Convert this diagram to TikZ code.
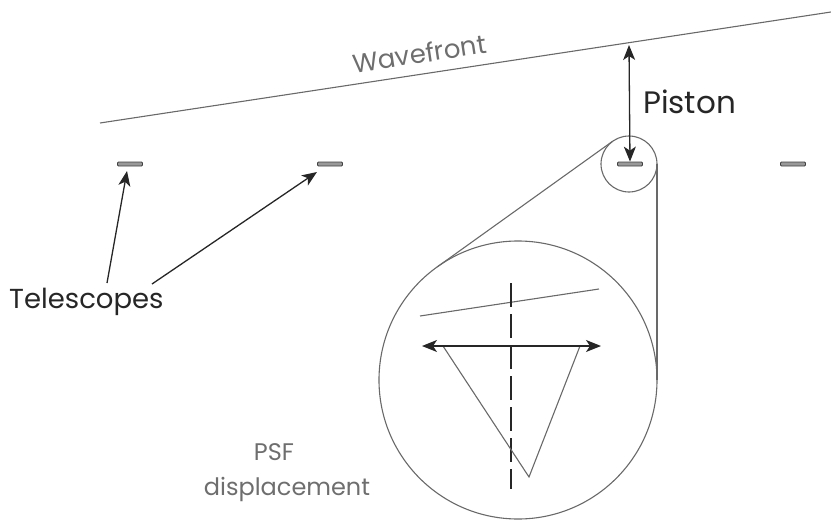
\documentclass[tikz,border=0pt]{standalone}
\usepackage{fontspec}
\setmainfont{Poppins}
\usetikzlibrary{arrows.meta}
\definecolor{lgray}{RGB}{105,105,105}
\definecolor{tgray}{RGB}{110,110,110}
\tikzset{
  tip/.tip={Stealth[length=15pt,width=12pt,inset=4pt]},
  thinline/.style={draw=lgray, line width=1.1pt},
  blackarrow/.style={draw=black!85, line width=1.3pt, -tip},
  dblarrow/.style={draw=black!85, line width=1.3pt, tip-tip},
  tele/.style={draw=black!75, fill=black!40, line width=0.8pt, rounded corners=1pt, minimum width=25pt, minimum height=4pt, inner sep=0pt},
  lbl/.style={inner sep=0pt, font=\fontsize{24}{28}\selectfont},
}
\begin{document}
\begin{tikzpicture}[x=1pt,y=-1pt]
\useasboundingbox (0,0) rectangle (831,522);
% wavefront
\coordinate (wa) at (100,123);
\coordinate (wb) at (831,12);
\draw[thinline] (wa) -- (wb);
\node[lbl, text=tgray, anchor=base, rotate=8.6, font=\fontsize{26}{30}\selectfont] (wft) at (421,63) {Wavefront};
% telescopes
\node[tele] (t1) at (130,164) {};
\node[tele] (t2) at (330,164) {};
\node[tele] (t3) at (630,164) {};
\node[tele] (t4) at (793,164) {};
% circles
\node[draw=lgray, line width=1.1pt, circle, minimum size=56pt, inner sep=0pt] (sc) at (629,164) {};
\node[draw=lgray, line width=1.1pt, circle, minimum size=278pt, inner sep=0pt] (bc) at (518,380) {};
% tangent lines
\coordinate (ta) at (612.7,141.2);
\coordinate (tb) at (437.1,267.0);
\coordinate (tc) at (657,164);
\coordinate (td) at (657,380);
\draw[thinline] (ta) -- (tb);
\draw[thinline] (tc) -- (td);
% piston arrow
\coordinate (wp) at (629,45);
\draw[dblarrow] (wp) -- (t3.north);
\node[lbl, anchor=base west, text=black!85, font=\fontsize{31}{36}\selectfont] (pist) at (643,113) {Piston};
% telescopes label
\node[lbl, anchor=base west, text=black!85, font=\fontsize{27.5}{32}\selectfont] (tel) at (9,308) {Telescopes};
\coordinate (a1) at (107,283);
\coordinate (a2) at (152,284);
\coordinate (e1) at (127,171);
\coordinate (e2) at (317,172);
\draw[blackarrow] (a1) -- (e1);
\draw[blackarrow] (a2) -- (e2);
% inside big circle
\coordinate (s1) at (420,316);
\coordinate (s2) at (599,289);
\draw[thinline] (s1) -- (s2);
\coordinate (d1) at (511,283);
\coordinate (d2) at (511,489);
\draw[draw=black!85, line width=1.2pt, dash pattern=on 24pt off 7pt] (d1) -- (d2);
\coordinate (p1) at (443,346);
\coordinate (p2) at (580,346);
\coordinate (p3) at (529,477);
\draw[thinline] (p1) -- (p3) -- (p2);
\coordinate (h1) at (422,346);
\coordinate (h2) at (601,346);
\draw[dblarrow] (h1) -- (h2);
% PSF label
\node[lbl, anchor=base, text=tgray] (psf) at (274,460) {PSF};
\node[lbl, anchor=base, text=tgray] (disp) at (287,495) {displacement};
\end{tikzpicture}
\end{document}
